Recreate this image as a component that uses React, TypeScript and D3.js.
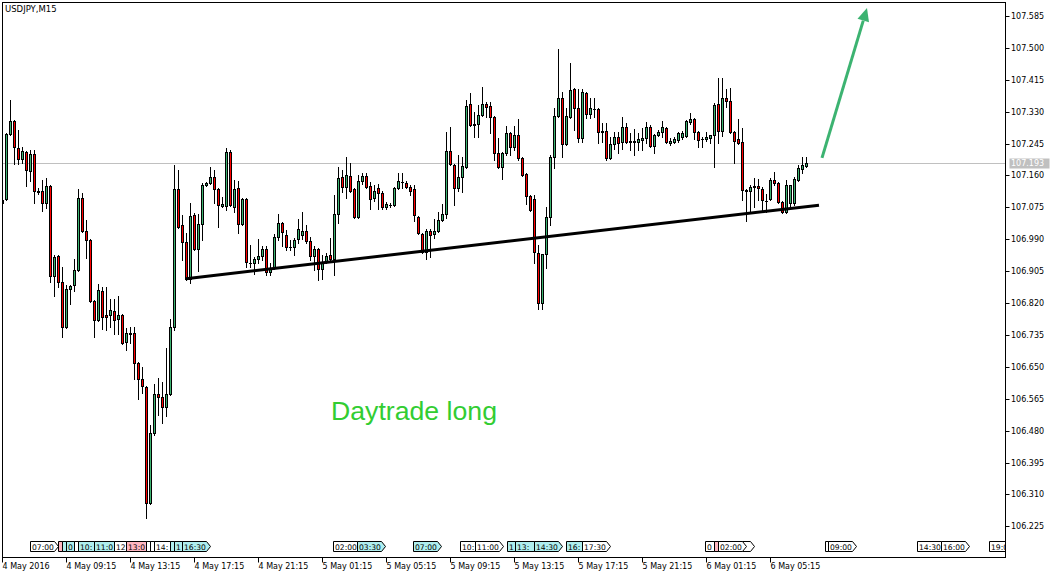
import React from "react";
import * as d3 from "d3";

// ---- Data (USDJPY M15, bars from 4 May 2016 05:15) ----
const opens = [
  107.087, 107.097, 107.271, 107.305, 107.233, 107.204, 107.223, 107.172, 107.217, 107.119,
  107.119, 107.087, 107.132, 106.892, 106.946, 106.876, 106.756, 106.858, 106.868, 106.908,
  107.100, 107.012, 106.988, 106.826, 106.775, 106.852, 106.788, 106.788, 106.799, 106.778,
  106.788, 106.716, 106.738, 106.740, 106.660, 106.618, 106.596, 106.287, 106.474, 106.578,
  106.570, 106.543, 106.578, 106.756, 107.124, 107.028, 106.983, 106.884, 107.055, 106.964,
  107.031, 107.135, 107.140, 107.156, 107.124, 107.079, 107.079, 107.223, 107.076, 107.127,
  107.031, 107.097, 106.927, 106.927, 106.938, 106.946, 106.964, 106.903, 106.914, 106.996,
  107.033, 107.002, 106.969, 106.969, 106.991, 107.002, 107.012, 106.985, 106.946, 106.964,
  106.911, 106.932, 106.948, 106.938, 107.057, 107.156, 107.129, 107.159, 107.124, 107.049,
  107.145, 107.159, 107.132, 107.100, 107.127, 107.113, 107.076, 107.081, 107.081, 107.127,
  107.143, 107.140, 107.129, 107.124, 107.049, 107.004, 106.956, 107.012, 107.004, 107.012,
  107.041, 107.057, 107.225, 107.188, 107.127, 107.156, 107.183, 107.351, 107.297, 107.297,
  107.321, 107.351, 107.345, 107.316, 107.220, 107.183, 107.220, 107.273, 107.236, 107.268,
  107.207, 107.164, 107.105, 107.097, 106.954, 106.820, 106.951, 107.049, 107.209, 107.319,
  107.367, 107.244, 107.316, 107.390, 107.340, 107.260, 107.380, 107.324, 107.337, 107.337,
  107.279, 107.279, 107.207, 107.244, 107.263, 107.249, 107.289, 107.252, 107.249, 107.249,
  107.255, 107.260, 107.289, 107.239, 107.268, 107.276, 107.287, 107.247, 107.249, 107.255,
  107.263, 107.265, 107.303, 107.311, 107.276, 107.257, 107.257, 107.260, 107.268, 107.351,
  107.279, 107.367, 107.359, 107.276, 107.257, 107.249, 107.121, 107.119, 107.132, 107.132,
  107.124, 107.092, 107.097, 107.148, 107.140, 107.089, 107.063, 107.087, 107.087, 107.148,
  107.177, 107.185,
];
const highs = [
  107.103, 107.273, 107.361, 107.308, 107.281, 107.236, 107.225, 107.228, 107.228, 107.127,
  107.148, 107.153, 107.135, 106.948, 106.948, 106.916, 106.868, 106.868, 106.938, 107.124,
  107.113, 107.041, 106.991, 106.828, 106.871, 106.863, 106.863, 106.831, 106.831, 106.839,
  106.791, 106.754, 106.756, 106.756, 106.663, 106.650, 106.599, 106.495, 106.604, 106.620,
  106.610, 106.700, 106.778, 107.188, 107.175, 107.055, 107.007, 107.087, 107.060, 107.057,
  107.140, 107.143, 107.183, 107.175, 107.127, 107.103, 107.233, 107.228, 107.148, 107.145,
  107.100, 107.100, 106.975, 106.943, 106.991, 106.972, 106.972, 106.927, 107.004, 107.057,
  107.036, 107.015, 106.988, 106.994, 107.044, 107.063, 107.028, 106.996, 106.972, 106.967,
  106.948, 106.954, 106.994, 107.108, 107.183, 107.175, 107.209, 107.193, 107.127, 107.161,
  107.167, 107.167, 107.143, 107.135, 107.137, 107.119, 107.089, 107.087, 107.130, 107.167,
  107.167, 107.145, 107.135, 107.135, 107.052, 107.007, 107.017, 107.017, 107.044, 107.063,
  107.084, 107.276, 107.289, 107.191, 107.215, 107.209, 107.361, 107.380, 107.329, 107.348,
  107.396, 107.356, 107.356, 107.319, 107.260, 107.223, 107.292, 107.276, 107.292, 107.311,
  107.209, 107.167, 107.108, 107.108, 106.975, 106.951, 107.076, 107.215, 107.340, 107.497,
  107.383, 107.340, 107.460, 107.393, 107.390, 107.390, 107.383, 107.367, 107.367, 107.340,
  107.300, 107.300, 107.263, 107.276, 107.276, 107.316, 107.300, 107.273, 107.284, 107.273,
  107.287, 107.303, 107.295, 107.270, 107.281, 107.305, 107.289, 107.260, 107.263, 107.276,
  107.279, 107.308, 107.327, 107.313, 107.279, 107.263, 107.276, 107.268, 107.353, 107.420,
  107.420, 107.390, 107.393, 107.279, 107.311, 107.287, 107.124, 107.135, 107.153, 107.151,
  107.129, 107.111, 107.153, 107.169, 107.143, 107.092, 107.148, 107.135, 107.156, 107.188,
  107.209, 107.209,
];
const lows = [
  107.079, 107.095, 107.268, 107.191, 107.191, 107.193, 107.132, 107.145, 107.087, 107.111,
  107.065, 107.073, 106.876, 106.839, 106.863, 106.730, 106.754, 106.818, 106.852, 106.906,
  107.010, 106.940, 106.823, 106.730, 106.772, 106.751, 106.748, 106.756, 106.738, 106.738,
  106.711, 106.695, 106.714, 106.618, 106.564, 106.580, 106.247, 106.285, 106.469, 106.522,
  106.501, 106.519, 106.575, 106.748, 107.020, 106.935, 106.882, 106.874, 106.962, 106.906,
  106.988, 107.132, 107.137, 107.087, 107.023, 107.076, 107.068, 107.079, 107.063, 107.007,
  107.028, 106.916, 106.916, 106.898, 106.927, 106.935, 106.895, 106.895, 106.911, 106.988,
  106.972, 106.962, 106.962, 106.948, 106.980, 106.991, 106.980, 106.935, 106.908, 106.882,
  106.884, 106.927, 106.935, 106.895, 107.033, 107.116, 107.100, 107.116, 107.047, 107.047,
  107.137, 107.127, 107.071, 107.092, 107.071, 107.071, 107.071, 107.076, 107.079, 107.124,
  107.127, 107.127, 107.108, 107.039, 107.004, 106.954, 106.938, 106.943, 106.994, 107.010,
  107.039, 107.047, 107.188, 107.081, 107.119, 107.116, 107.180, 107.292, 107.263, 107.263,
  107.319, 107.316, 107.273, 107.201, 107.180, 107.151, 107.215, 107.215, 107.228, 107.201,
  107.159, 107.084, 107.065, 106.927, 106.804, 106.804, 106.914, 107.028, 107.180, 107.316,
  107.209, 107.241, 107.313, 107.281, 107.249, 107.249, 107.313, 107.313, 107.316, 107.247,
  107.249, 107.201, 107.204, 107.231, 107.220, 107.231, 107.247, 107.228, 107.215, 107.228,
  107.228, 107.247, 107.236, 107.220, 107.265, 107.263, 107.247, 107.241, 107.247, 107.249,
  107.257, 107.263, 107.297, 107.257, 107.236, 107.236, 107.252, 107.247, 107.183, 107.247,
  107.265, 107.343, 107.273, 107.193, 107.244, 107.095, 107.039, 107.060, 107.076, 107.095,
  107.068, 107.063, 107.095, 107.135, 107.087, 107.060, 107.060, 107.076, 107.081, 107.145,
  107.167, 107.183,
];
const closes = [
  107.095, 107.271, 107.305, 107.236, 107.204, 107.225, 107.175, 107.217, 107.119, 107.116,
  107.087, 107.132, 106.892, 106.943, 106.876, 106.756, 106.858, 106.866, 106.908, 107.100,
  107.012, 106.988, 106.826, 106.775, 106.855, 106.783, 106.783, 106.802, 106.775, 106.788,
  106.714, 106.740, 106.740, 106.660, 106.618, 106.599, 106.287, 106.474, 106.578, 106.570,
  106.543, 106.578, 106.756, 107.124, 107.023, 106.983, 106.884, 107.052, 106.964, 107.031,
  107.135, 107.140, 107.156, 107.124, 107.081, 107.084, 107.223, 107.081, 107.124, 107.031,
  107.097, 106.930, 106.926, 106.938, 106.946, 106.964, 106.903, 106.914, 106.996, 107.033,
  107.010, 106.969, 106.970, 106.988, 107.017, 107.012, 106.985, 106.946, 106.964, 106.911,
  106.930, 106.946, 106.938, 107.057, 107.153, 107.129, 107.161, 107.119, 107.049, 107.145,
  107.159, 107.129, 107.097, 107.119, 107.113, 107.076, 107.084, 107.082, 107.127, 107.145,
  107.144, 107.129, 107.119, 107.055, 107.007, 106.956, 107.012, 107.002, 107.012, 107.041,
  107.057, 107.225, 107.191, 107.127, 107.156, 107.185, 107.345, 107.295, 107.295, 107.321,
  107.351, 107.343, 107.316, 107.220, 107.183, 107.220, 107.273, 107.236, 107.268, 107.207,
  107.161, 107.105, 107.068, 106.956, 106.820, 106.951, 107.049, 107.209, 107.319, 107.367,
  107.244, 107.319, 107.388, 107.340, 107.260, 107.383, 107.324, 107.340, 107.338, 107.276,
  107.276, 107.207, 107.244, 107.263, 107.247, 107.289, 107.249, 107.249, 107.252, 107.257,
  107.260, 107.289, 107.239, 107.268, 107.276, 107.289, 107.249, 107.252, 107.257, 107.273,
  107.273, 107.305, 107.311, 107.276, 107.255, 107.256, 107.263, 107.268, 107.348, 107.279,
  107.367, 107.359, 107.276, 107.252, 107.247, 107.121, 107.120, 107.129, 107.129, 107.127,
  107.095, 107.091, 107.148, 107.140, 107.089, 107.063, 107.135, 107.135, 107.151, 107.180,
  107.188, 107.193,
];

const priceTicks = [
  107.585, 107.5, 107.415, 107.33, 107.245, 107.16, 107.075, 106.99, 106.905,
  106.82, 106.735, 106.65, 106.565, 106.48, 106.395, 106.31, 106.225,
];
const timeLabels = [
  "4 May 2016", "4 May 09:15", "4 May 13:15", "4 May 17:15", "4 May 21:15",
  "5 May 01:15", "5 May 05:15", "5 May 09:15", "5 May 13:15", "5 May 17:15",
  "5 May 21:15", "6 May 01:15", "6 May 05:15",
];
const barsPerTimeLabel = 16;

// economic calendar markers on the time axis: bar position, visible label, kind
const eventBars = [
  7.1, 14, 14.9, 15.9, 18, 19, 22.9, 28, 31, 36.1, 37.1, 38, 42, 43.1, 44.9,
  82.75, 88.75, 102.75, 114.5, 118.25, 126.25, 128.25, 133.1, 141, 144.9,
  175.85, 177.9, 180.9, 178.9, 205.75, 206.6, 228.7, 234.75, 246.7,
];
const eventLabels = [
  "07:00", "", "", "0", "", "10:", "11:0", "12", "13:0", "", "", "14:", "", "1", "16:30",
  "02:00", "03:30", "07:00", "10:", "11:00", "1", "13:", "14:30", "16:", "17:30",
  "0", "", "", "02:00", "", "09:00", "14:30", "16:00", "19:0",
];
const eventKinds = [
  "w", "p", "c", "c", "w", "c", "c", "w", "p", "w", "w", "w", "c", "c", "c",
  "w", "c", "c", "w", "w", "c", "c", "c", "c", "w",
  "w", "p", "w", "w", "w", "w", "w", "w", "w",
];

const symbolTitle = "USDJPY,M15";
const lastPrice = 107.193;
const trendBars = [46, 204.25];
const trendPrices = [106.885, 107.081];
const arrowBars = [205, 216.25];
const arrowPrices = [107.207, 107.606];
const noteText = "Daytrade long";
const noteBar = 82.25;
const notePrice = 106.508;

const W = 1060;
const H = 578;
const FONT = "'DejaVu Sans', Tahoma, sans-serif";

export default function App() {
  const left = 2.5, top = 2.5, right = 1005.5, bottom = 557.5;
  const x = d3.scaleLinear().domain([0, 250]).range([2, 1002]);
  const y = d3.scaleLinear().domain([106.225, 107.585]).range([526.4, 16]);

  const eventColor: Record<string, string> = { w: "#ffffff", c: "#afeeee", p: "#ffb6c1" };

  const candles = opens.map((o, i) => {
    const c = closes[i];
    const col = Math.round(x(i));
    const yh = Math.round(y(highs[i]));
    const yl = Math.round(y(lows[i]));
    const yo = Math.round(y(o));
    const yc = Math.round(y(c));
    const t = Math.min(yo, yc);
    const b = Math.max(yo, yc);
    const bull = c >= o;
    return (
      <g key={i}>
        <line x1={col + 0.5} x2={col + 0.5} y1={yh} y2={yl + 1} stroke="#000" strokeWidth={1} />
        {b - t < 1 ? (
          <line x1={col - 1} x2={col + 2} y1={t + 0.5} y2={t + 0.5} stroke="#000" strokeWidth={1} />
        ) : (
          <rect x={col - 0.5} y={t + 0.5} width={2} height={b - t} fill={bull ? "#3cb371" : "#ff0000"} stroke="#000" strokeWidth={1} />
        )}
      </g>
    );
  });

  const lastY = Math.round(y(lastPrice)) + 0.5;

  const ax0 = x(arrowBars[0]), ay0 = y(arrowPrices[0]);
  const ax1 = x(arrowBars[1]), ay1 = y(arrowPrices[1]);
  const ang = Math.atan2(ay1 - ay0, ax1 - ax0);
  const headLen = 13, headW = 6;
  const hx = ax1 - headLen * Math.cos(ang), hy = ay1 - headLen * Math.sin(ang);
  const px = -Math.sin(ang), py = Math.cos(ang);

  const boxTop = 541.5, boxBot = 551.5, boxW = 28;

  return (
    <svg width={W} height={H} style={{ position: "absolute", left: 0, top: 0, background: "#fff" }} fontFamily={FONT}>
      <rect x={0} y={0} width={W} height={H} fill="#fff" />
      <defs>
        <clipPath id="plot">
          <rect x={left + 0.5} y={top + 0.5} width={right - left - 1} height={bottom - top - 1} />
        </clipPath>
      </defs>

      <text x={5} y={12} fontSize={8.5} fill="#000">{symbolTitle}</text>

      <g clipPath="url(#plot)">
        <line x1={left} x2={right} y1={lastY} y2={lastY} stroke="#c0c0c0" strokeWidth={1} />
        {candles}
        <line x1={x(trendBars[0])} y1={y(trendPrices[0])} x2={x(trendBars[1])} y2={y(trendPrices[1])} stroke="#000" strokeWidth={3} />
        <line x1={ax0} y1={ay0} x2={hx} y2={hy} stroke="#3cb371" strokeWidth={3} />
        <polygon
          points={`${ax1},${ay1} ${hx + px * headW},${hy + py * headW} ${hx - px * headW},${hy - py * headW}`}
          fill="#3cb371"
        />
        <text x={x(noteBar)} y={y(notePrice)} fontFamily="'Liberation Sans', Arial, sans-serif" fontSize={26.67} fill="#32cd32">{noteText}</text>
        {eventBars.map((b, i) => {
          const ex = Math.round(x(b)) + 0.5;
          const mid = (boxTop + boxBot) / 2;
          const d = `M${ex},${boxTop} H${ex + boxW - 4} L${ex + boxW},${mid} L${ex + boxW - 4},${boxBot} H${ex} Z`;
          return (
            <g key={"e" + i}>
              <path d={d} fill={eventColor[eventKinds[i]]} stroke="#000" strokeWidth={1} />
              {eventLabels[i] ? (
                <text x={ex + 1.5} y={boxBot - 1.5} fontSize={7.6} fill="#000">{eventLabels[i]}</text>
              ) : null}
            </g>
          );
        })}
      </g>

      <rect x={left} y={top} width={right - left} height={bottom - top} fill="none" stroke="#000" strokeWidth={1} />

      {priceTicks.map((p) => {
        const ty = Math.round(y(p)) + 0.5;
        return (
          <g key={p}>
            <line x1={right} x2={right + 4} y1={ty} y2={ty} stroke="#000" strokeWidth={1} />
            <text x={1011} y={ty} dy="0.35em" fontSize={8} fill="#000">{p.toFixed(3)}</text>
          </g>
        );
      })}
      <rect x={1009.5} y={lastY - 5} width={40} height={10} fill="#c0c0c0" />
      <text x={1011} y={lastY} dy="0.35em" fontSize={8} fill="#fff">{lastPrice.toFixed(3)}</text>

      {timeLabels.map((t, k) => {
        const tx = Math.round(x(k * barsPerTimeLabel)) + 0.5;
        return (
          <g key={t}>
            <line x1={tx} x2={tx} y1={bottom} y2={bottom + 5} stroke="#000" strokeWidth={1} />
            <text x={tx} y={569} fontSize={8} fill="#000">{t}</text>
          </g>
        );
      })}
    </svg>
  );
}
